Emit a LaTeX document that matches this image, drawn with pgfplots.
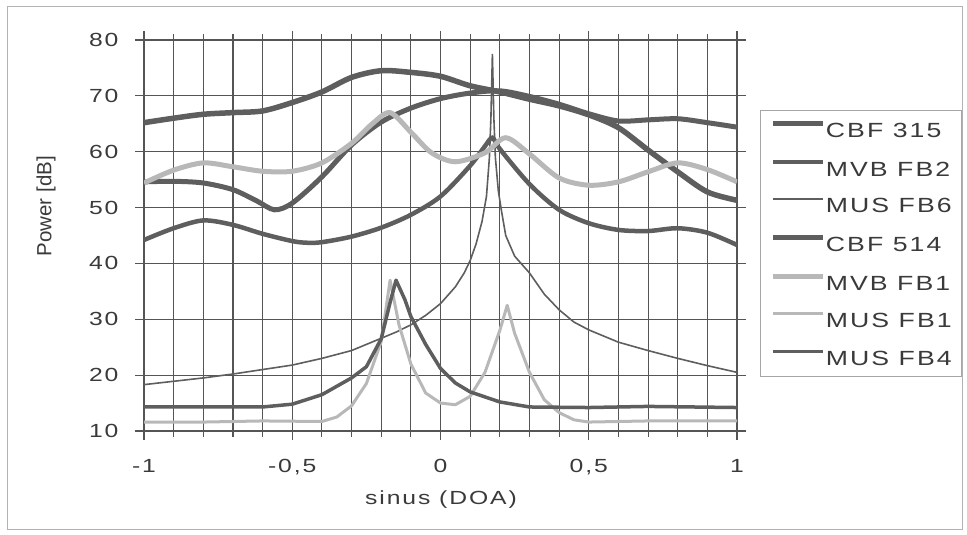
\documentclass[border=0pt]{standalone}
\usepackage{pgfplots}
\pgfplotsset{compat=1.18}
\usepackage{fontspec}
\setmainfont{Liberation Sans}[FakeStretch=1.3, LetterSpace=10]
\newfontfamily\ylabfont{Liberation Sans}
\definecolor{dk}{HTML}{5E5E5E}
\definecolor{lt}{HTML}{B8B8B8}
\definecolor{gridc}{HTML}{555555}
\definecolor{txt}{HTML}{3A3A3A}
\begin{document}
\fontsize{19bp}{23bp}\selectfont
\begin{tikzpicture}[x=1bp,y=1bp]
\path[use as bounding box] (0,0) rectangle (967,535);
\draw[gray!60, line width=0.8bp] (7,6) rectangle (962,529);
\begin{axis}[
  at={(144bp,104bp)}, anchor=south west,
  scale only axis, width=593bp, height=391bp,
  xmin=-1, xmax=1, ymin=10, ymax=80,
  xtick={-1,-0.5,0,0.5,1},
  xticklabels={-1,{-0,5},0,{0,5},1},
  minor xtick={-0.9,-0.8,-0.7,-0.6,-0.4,-0.3,-0.2,-0.1,0.1,0.2,0.3,0.4,0.6,0.7,0.8,0.9},
  ytick={10,20,...,80},
  /pgf/number format/assume math mode=true,
  tick align=outside,
  major tick length=9bp, minor tick length=6bp,
  xmajorgrids, xminorgrids, ymajorgrids,
  grid style={gridc, line width=1.1bp},
  minor grid style={gridc, line width=1.1bp},
  axis line style={gridc, line width=1.3bp},
  tick style={gridc, line width=1.1bp},
  every tick label/.append style={font=\fontsize{19bp}{23bp}\selectfont, text=txt},
  xticklabel style={yshift=-13bp},
  yticklabel style={xshift=-10bp},
  every axis x label/.style={at={(axis description cs:0.5008,-0.1765)}, anchor=center},
  every axis y label/.style={at={(axis description cs:-0.1653,0.575)}, anchor=center, rotate=90},
  xlabel={sinus (DOA)}, ylabel={\ylabfont\fontsize{20.5bp}{24bp}\selectfont Power [dB]},
  label style={font=\fontsize{19bp}{23bp}\selectfont, text=txt},
  legend style={at={(1.0388,0.821)}, anchor=north west, draw=gray!70, line width=0.8bp,
    inner xsep=10bp, inner ysep=11bp, row sep=22bp,
    font=\fontsize{20.5bp}{24bp}\selectfont, text=txt,
    nodes={inner sep=0pt, text height=14bp, text depth=0bp},
    /tikz/every even column/.append style={column sep=8bp}},
  legend cell align=left,
  legend image code/.code={\draw[#1] (0bp,7bp) -- (50bp,7bp);},
]
% CBF 315
\addplot[dk, line width=5bp, smooth, tension=0.5] coordinates {
(-1,54.6) (-0.9,54.7) (-0.8,54.4) (-0.7,53.2) (-0.62,51.2) (-0.56,49.6) (-0.5,50.8) (-0.4,55.5)
(-0.3,61.2) (-0.2,65.3) (-0.1,67.8) (0,69.5) (0.1,70.5) (0.2,70.9) (0.3,69.9) (0.4,68.5)
(0.5,66.8) (0.6,65.5) (0.7,65.7) (0.8,65.9) (0.9,65.2) (1,64.4)};
\addlegendentry{CBF 315}
% MVB FB2
\addplot[dk, line width=4.5bp, smooth, tension=0.5] coordinates {
(-1,44.2) (-0.9,46.3) (-0.8,47.7) (-0.7,46.9) (-0.6,45.3) (-0.5,44.0) (-0.45,43.7) (-0.4,43.8)
(-0.3,44.8) (-0.2,46.4) (-0.1,48.7) (0,52) (0.1,57.5) (0.15,61) (0.175,62.5) (0.2,60.5)
(0.3,54.2) (0.4,49.6) (0.5,47.2) (0.6,46) (0.7,45.8) (0.8,46.3) (0.9,45.5) (1,43.3)};
\addlegendentry{MVB FB2}
% MUS FB6
\addplot[dk, line width=1.6bp] coordinates {
(-1,18.3) (-0.9,18.9) (-0.8,19.5) (-0.7,20.2) (-0.6,21) (-0.5,21.8) (-0.4,23) (-0.3,24.4)
(-0.2,26.6) (-0.15,27.7) (-0.1,29) (-0.05,30.7) (0,32.8) (0.05,35.8) (0.08,38.3) (0.1,40.5) (0.12,43.5) (0.14,47.5)
(0.155,52) (0.165,59) (0.17,66) (0.175,77.5) (0.18,66) (0.185,59) (0.195,53) (0.205,49.6)
(0.22,45) (0.25,41.3) (0.3,38.3) (0.35,34.5) (0.4,31.7) (0.45,29.5) (0.5,28.1) (0.6,25.9)
(0.7,24.4) (0.8,23) (0.9,21.7) (1,20.5)};
\addlegendentry{MUS FB6}
% CBF 514
\addplot[dk, line width=5.5bp, smooth, tension=0.5] coordinates {
(-1,65.2) (-0.9,66) (-0.8,66.7) (-0.7,67) (-0.6,67.3) (-0.5,68.8) (-0.4,70.7) (-0.3,73.3)
(-0.2,74.5) (-0.1,74.2) (0,73.5) (0.1,71.8) (0.2,70.7) (0.3,69.4) (0.4,68.2) (0.5,66.6)
(0.6,64.3) (0.7,60.3) (0.8,56.4) (0.9,52.8) (1,51.3)};
\addlegendentry{CBF 514}
% MVB FB1
\addplot[lt, line width=5bp, smooth, tension=0.5] coordinates {
(-1,54.4) (-0.9,56.7) (-0.8,58) (-0.7,57.3) (-0.6,56.5) (-0.5,56.5) (-0.4,58) (-0.3,61.5)
(-0.23,65) (-0.17,67) (-0.1,63.5) (-0.03,59.8) (0.05,58.2) (0.15,59.8) (0.22,62.5) (0.3,59.6)
(0.4,55.3) (0.5,54) (0.6,54.6) (0.7,56.4) (0.8,58) (0.9,56.8) (1,54.6)};
\addlegendentry{MVB FB1}
% MUS FB1
\addplot[lt, line width=3bp, line join=round] coordinates {
(-1,11.6) (-0.8,11.6) (-0.6,11.8) (-0.4,11.7) (-0.35,12.5) (-0.3,14.5) (-0.25,18.5) (-0.2,26)
(-0.17,37) (-0.14,29) (-0.1,22) (-0.05,16.8) (0,15) (0.05,14.7) (0.1,16.2) (0.15,20.5)
(0.2,28) (0.225,32.5) (0.25,27.5) (0.3,20.5) (0.35,15.6) (0.4,13.3) (0.45,12) (0.5,11.6)
(0.7,11.8) (1,11.8)};
\addlegendentry{MUS FB1}
% MUS FB4
\addplot[dk, line width=3.5bp, line join=round] coordinates {
(-1,14.3) (-0.8,14.3) (-0.6,14.3) (-0.5,14.8) (-0.4,16.5) (-0.3,19.5) (-0.25,21.5) (-0.2,26.5)
(-0.17,33) (-0.15,37) (-0.12,33.5) (-0.1,30.5) (-0.05,25.5) (0,21.2) (0.05,18.6) (0.1,17)
(0.2,15.2) (0.3,14.3) (0.5,14.2) (0.7,14.4) (1,14.2)};
\addlegendentry{MUS FB4}
\end{axis}
\end{tikzpicture}
\end{document}
